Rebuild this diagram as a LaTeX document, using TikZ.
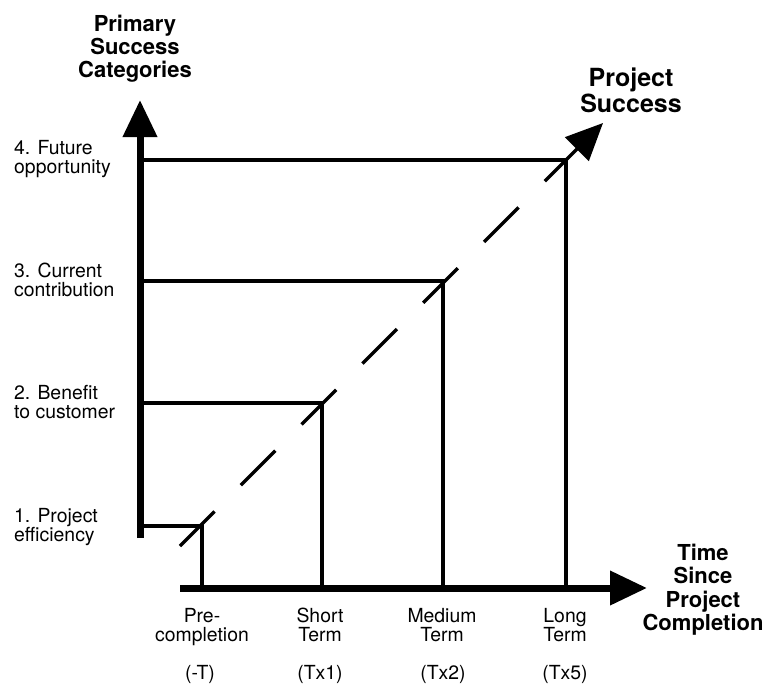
\documentclass[tikz,border=0pt]{standalone}
\usepackage{fontspec}
\setmainfont{TeX Gyre Heros}
\usetikzlibrary{arrows.meta}

\tikzset{
  axis/.style={line width=7pt, -{Triangle[length=37pt,width=33pt]}},
  level/.style={line width=3.5pt, miter limit=10},
  trend/.style={line width=3.5pt, dash pattern=on 48.8pt off 37.2pt,
                -{Triangle[length=37pt,width=33pt]}},
  catlabel/.style={inner sep=0pt, anchor=north west, align=left,
                   font=\fontsize{19.4}{19.2}\selectfont},
  ticklabel/.style={inner sep=0pt, anchor=north, align=center,
                    font=\fontsize{19.4}{19.2}\selectfont},
  title/.style={inner sep=0pt, anchor=north, align=center,
                font=\bfseries\fontsize{22}{22.8}\selectfont},
}

\begin{document}
\begin{tikzpicture}[x=1pt, y=-1pt]
  \useasboundingbox (0,0) rectangle (767,685);

  % axis end points
  \coordinate (ybot)   at (140,538);
  \coordinate (ytop)   at (140,100);
  \coordinate (xleft)  at (180,588);
  \coordinate (xright) at (647,588);

  % where each success level meets its time horizon
  \coordinate (c1) at (202,526);
  \coordinate (c2) at (322,403);
  \coordinate (c3) at (443,281);
  \coordinate (c4) at (566,160);

  % trend line ends
  \coordinate (tstart) at (180,546);
  \coordinate (tend)   at (603,123);

  % success levels: from the vertical axis across, then down to the time axis
  \draw[level] (ybot |- c1) -| (c1 |- xleft);
  \draw[level] (ybot |- c2) -| (c2 |- xleft);
  \draw[level] (ybot |- c3) -| (c3 |- xleft);
  \draw[level] (ybot |- c4) -| (c4 |- xleft);

  % axes
  \draw[axis] (ybot) -- (ytop);
  \draw[axis] (xleft) -- (xright);

  % dashed trend towards project success
  \draw[trend] (tstart) -- (tend);

  % axis titles
  \node[title] (ytitle) at (135,15) {Primary\\Success\\Categories};
  \node[title, font=\bfseries\fontsize{25}{26}\selectfont] (stitle) at (631,68) {Project\\Success};
  \node[title, font=\bfseries\fontsize{22}{23.3}\selectfont] (xtitle) at (703,544) {Time\\Since\\Project\\Completion};

  % category labels
  \node[catlabel] (cat4) at (14,140) {4. Future\\opportunity};
  \node[catlabel] (cat3) at (14,263) {3. Current\\contribution};
  \node[catlabel] (cat2) at (14,385) {2. Benefit\\to customer};
  \node[catlabel] (cat1) at (14,508) {1. Project\\efficiency};

  % time horizon labels
  \node[ticklabel] (t1) at (202,608) {Pre-\\completion};
  \node[ticklabel] (t2) at (320,608) {Short\\Term};
  \node[ticklabel] (t3) at (442,608) {Medium\\Term};
  \node[ticklabel] (t4) at (565,608) {Long\\Term};

  \node[ticklabel] (m1) at (200,665) {(-T)};
  \node[ticklabel] (m2) at (320,665) {(Tx1)};
  \node[ticklabel] (m3) at (443,665) {(Tx2)};
  \node[ticklabel] (m4) at (565,665) {(Tx5)};
\end{tikzpicture}
\end{document}
